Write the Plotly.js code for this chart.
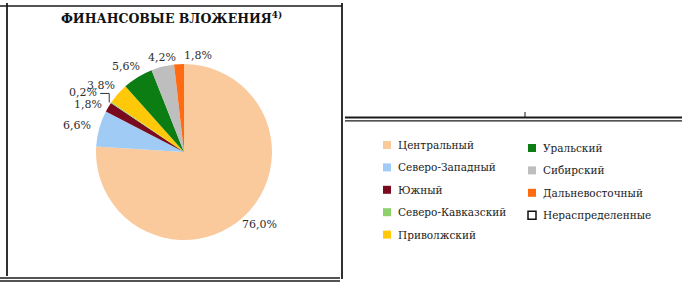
<!DOCTYPE html>
<html>
<head>
<meta charset="utf-8">
<script src="https://cdn.plot.ly/plotly-3.0.1.min.js"></script>
<style>html,body{margin:0;padding:0;background:#fff;}#chart{width:682px;height:285px;}</style>
</head>
<body>
<div id="chart"></div>
<script>
const regions = ['Центральный','Северо-Западный','Южный','Северо-Кавказский','Приволжский','Уральский','Сибирский','Дальневосточный','Нераспределенные'];
const shares = [76.0, 6.6, 1.8, 0.2, 3.8, 5.6, 4.2, 1.8, 0];
const colors = ['#FAC99C','#9FCBF5','#7A0A1E','#8ED16B','#FFC90A','#0B7D12','#BEBEBE','#FF6A12','#FFFFFF'];
const titleText = 'ФИНАНСОВЫЕ ВЛОЖЕНИЯ<sup>4)</sup>';

const SERIF = 'DejaVu Serif';
const W = 682, H = 285;
const px = x => x / W, py = y => 1 - y / H;

const labelsText = shares.map(v => v > 0 ? v.toFixed(1).replace('.', ',') + '%' : '');

const cx = 184, cy = 152, r = 88;
const trace = {
  type: 'pie',
  labels: regions,
  values: shares,
  textinfo: 'none',
  sort: false,
  direction: 'clockwise',
  rotation: 0,
  automargin: false,
  showlegend: false,
  marker: {colors: colors, line: {width: 0}},
  domain: {x: [px(cx - r), px(cx + r)], y: [py(cy + r), py(cy - r)]},
  hoverinfo: 'none'
};

const shapes = [];
const line = (x0,y0,x1,y1,w) => shapes.push({type:'line', xref:'paper', yref:'paper', x0:px(x0), y0:py(y0), x1:px(x1), y1:py(y1), line:{color:'#1a1a1a', width:w}});
line(0, 6, 342, 6, 1.3);
line(7, 3, 7, 276, 1.8);
line(342, 3, 342, 279, 1.8);
line(0, 278, 340, 278, 1.3);
line(0, 281, 340, 281, 1.3);
line(345, 117.5, 682, 117.5, 2);
line(345, 120.8, 682, 120.8, 1.2);
line(525, 112, 525, 117, 1);

const annotations = [{
  text: titleText, xref:'paper', yref:'paper', x: px(171), y: py(18), xanchor:'center', yanchor:'middle',
  showarrow:false, font:{family:SERIF, size:12.5, color:'#111', weight:'bold'}
}];

// percentage labels placed just outside the pie from each slice's mid angle
const total = shares.reduce((a, b) => a + b, 0);
let cum = 0;
const lab = [];
const LW = 34, LH = 12, GAP = 6;
shares.forEach((v, i) => {
  const f = (cum + v / 2) / total;
  cum += v;
  if (v <= 0) return;
  const th = f * 2 * Math.PI;
  const s = Math.sin(th), c = Math.cos(th);
  const ex = cx + r * s, ey = cy - r * c;
  lab.push({i, ex, ey, x: ex + (GAP + LW / 2) * s, y: ey - (GAP + LH / 2) * c, leader: false});
});
for (let k = 1; k < lab.length; k++) {
  const a = lab[k - 1], b = lab[k];
  const small = shares[a.i] < shares[b.i] ? a : b, big = small === a ? b : a;
  if (a.leader || b.leader) continue;
  if (Math.abs(a.x - b.x) < 8 && Math.abs(a.y - b.y) < 10) {
    const m = (a.y + b.y) / 2, up = a.y < b.y ? a : b, dn = a.y < b.y ? b : a;
    up.y = m - 6; dn.y = m + 6;
    small.leader = true;
    small.x -= 9;
  } else if (Math.abs(a.y - b.y) < LH && Math.abs(a.x - b.x) < LW) {
    const dir = small.x >= big.x ? 1 : -1;
    small.x = big.x + dir * (LW + 2);
    small.y += 3;
  }
}
lab.forEach(L => {
  annotations.push({text: labelsText[L.i], xref:'paper', yref:'paper', x: px(L.x), y: py(L.y),
    xanchor:'center', yanchor:'middle', showarrow:false,
    font:{family:SERIF, size:11, color:'#2e2e2e'}});
  if (L.leader) {
    const x0 = L.x + 17, xe = L.ex - 2;
    shapes.push({type:'path', xref:'paper', yref:'paper',
      path:`M ${px(x0)} ${py(L.y + 1)} L ${px(xe)} ${py(L.y + 1)} L ${px(xe)} ${py(L.ey)}`,
      line:{color:'#333', width:1}});
  }
});

regions.forEach((name, i) => {
  const col = i < 5 ? 0 : 1;
  const row = i < 5 ? i : i - 5;
  const mx = col === 0 ? 387 : 532;
  const my = (col === 0 ? 145 : 148) + row * 22.4;
  const hollow = shares[i] === 0;
  shapes.push({type:'rect', xref:'paper', yref:'paper',
    x0:px(mx - 4), x1:px(mx + 4), y0:py(my + 4), y1:py(my - 4),
    fillcolor: colors[i], line:{color: hollow ? '#111' : colors[i], width: hollow ? 1.5 : 0}});
  annotations.push({text: name, xref:'paper', yref:'paper', x: px(mx + 9), y: py(my), xanchor:'left', yanchor:'middle',
    showarrow:false, font:{family:SERIF, size:10.5, color:'#222'}});
});

const layout = {
  width: W, height: H,
  margin: {l:0, r:0, t:0, b:0},
  paper_bgcolor: '#fff',
  shapes: shapes,
  annotations: annotations
};

Plotly.newPlot('chart', [trace], layout, {staticPlot: true, displayModeBar: false});
</script>
</body>
</html>
